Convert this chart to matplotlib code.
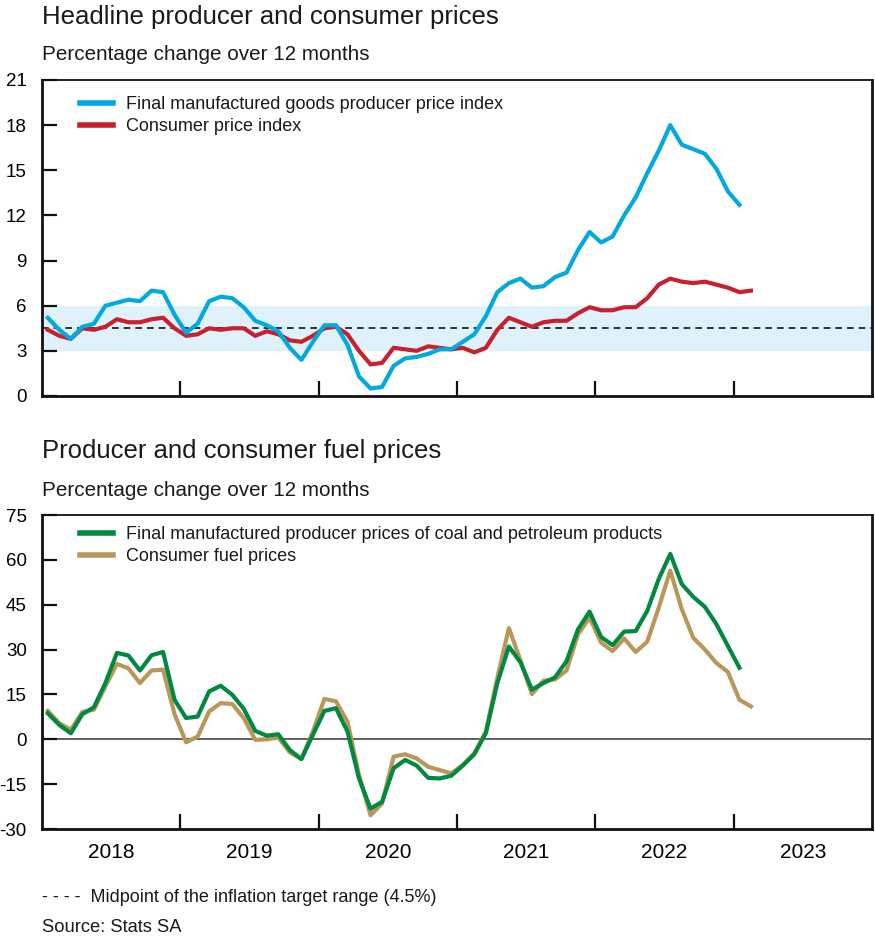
import matplotlib
matplotlib.use('Agg')
import matplotlib.pyplot as plt
from matplotlib.lines import Line2D
import numpy as np

plt.rcParams['font.family'] = ['Liberation Sans', 'DejaVu Sans']
plt.rcParams['text.color'] = '#1a1a1a'
plt.rcParams['axes.unicode_minus'] = False

# monthly data, Jan 2018 onwards
ppi = [5.2, 4.4, 3.8, 4.6, 4.8, 6.0, 6.2, 6.4, 6.3, 7.0,
       6.9, 5.4, 4.2, 4.8, 6.3, 6.6, 6.5, 5.9, 5.0, 4.7,
       4.3, 3.2, 2.4, 3.6, 4.7, 4.7, 3.4, 1.3, 0.5, 0.6,
       2.0, 2.5, 2.6, 2.8, 3.1, 3.1, 3.6, 4.1, 5.3, 6.9,
       7.5, 7.8, 7.2, 7.3, 7.9, 8.2, 9.7, 10.9, 10.2, 10.6,
       12.0, 13.2, 14.8, 16.3, 18.0, 16.7, 16.4, 16.1, 15.1, 13.6, 12.7]
cpi = [4.4, 4.0, 3.8, 4.5, 4.4, 4.6, 5.1, 4.9, 4.9, 5.1,
       5.2, 4.5, 4.0, 4.1, 4.5, 4.4, 4.5, 4.5, 4.0, 4.3,
       4.1, 3.7, 3.6, 4.0, 4.5, 4.6, 4.1, 3.0, 2.1, 2.2,
       3.2, 3.1, 3.0, 3.3, 3.2, 3.1, 3.2, 2.9, 3.2, 4.4,
       5.2, 4.9, 4.6, 4.9, 5.0, 5.0, 5.5, 5.9, 5.7, 5.7,
       5.9, 5.9, 6.5, 7.4, 7.8, 7.6, 7.5, 7.6, 7.4, 7.2, 6.9, 7.0]
fuel_ppi = [8.7, 4.8, 2.0, 8.4, 10.7, 18.8, 28.9, 28.0, 23.0, 28.1,
            29.2, 13.2, 7.1, 7.6, 16.0, 17.9, 14.9, 10.2, 2.8, 1.2,
            1.7, -3.6, -6.6, 1.5, 9.5, 10.4, 2.6, -13.1, -23.2, -20.9,
            -9.7, -6.9, -8.8, -12.9, -13.1, -12.2, -8.8, -5.0, 2.0, 18.8,
            31.0, 25.8, 16.6, 18.8, 20.7, 26.1, 36.8, 42.7, 34.2, 31.5,
            36.0, 36.2, 42.9, 53.6, 62.0, 51.9, 47.6, 44.3, 38.5, 31.2, 23.9]
fuel_cpi = [9.5, 5.4, 3.2, 9.1, 9.9, 17.7, 25.2, 23.7, 18.8, 23.0,
            23.3, 8.4, -1.0, 0.9, 9.3, 12.1, 11.8, 7.1, -0.2, 0.0,
            0.6, -4.4, -6.6, 2.6, 13.5, 12.7, 5.9, -12.0, -25.4, -21.5,
            -5.8, -5.0, -6.4, -9.2, -10.3, -11.4, -8.6, -4.7, 2.6, 20.5,
            37.2, 26.4, 15.1, 19.6, 20.0, 23.0, 35.1, 40.7, 32.3, 29.5,
            33.7, 29.2, 32.6, 44.0, 56.4, 43.5, 33.9, 30.0, 25.5, 22.5, 13.2, 11.0]
years = ['2018', '2019', '2020', '2021', '2022', '2023']

BLUE = '#00a9e0'
RED = '#c8202f'
GREEN = '#00893f'
GOLD = '#b9975b'
BAND = '#dff1fa'

W, H = 875, 939
fig = plt.figure(figsize=(W / 100, H / 100), dpi=100)


def frame(ax, ylim, step):
    ax.set_xlim(-0.5, 71.5)
    ax.set_ylim(*ylim)
    ax.set_yticks(np.arange(ylim[0], ylim[1] + 1, step))
    ax.set_xticks(np.arange(11.5, 71, 12))
    ax.set_xticklabels([])
    ax.tick_params(axis='both', direction='in', length=11, width=1.6,
                   labelsize=13.5, color='#111111')
    ax.tick_params(axis='y', pad=11)
    for side in ['left', 'right', 'bottom']:
        ax.spines[side].set_linewidth(2)
    ax.spines['top'].set_linewidth(1.3)
    for s in ax.spines.values():
        s.set_color('#111111')


# top panel
ax1 = fig.add_axes([42 / W, 1 - 396 / H, 830 / W, 316 / H])
frame(ax1, (0, 21), 3)
ax1.axhspan(3, 6, color=BAND, lw=0, zorder=0)
ax1.axhline(4.5, color='#111111', lw=1.2, ls=(0, (4, 3)), zorder=1)
ax1.plot(np.arange(len(cpi)), cpi, color=RED, lw=3, zorder=3)
ax1.plot(np.arange(len(ppi)), ppi, color=BLUE, lw=3, zorder=4)
h1 = [Line2D([], [], color=BLUE, lw=4), Line2D([], [], color=RED, lw=4)]
ax1.legend(h1, ['Final manufactured goods producer price index', 'Consumer price index'],
           loc='upper left', bbox_to_anchor=((80 - 42) / 830, (396 - 96) / 316),
           frameon=False, fontsize=13, handlelength=1.85, handletextpad=0.7,
           labelspacing=0.28, borderpad=0, borderaxespad=0)

# bottom panel
ax2 = fig.add_axes([42 / W, 1 - 829 / H, 830 / W, 314 / H])
frame(ax2, (-30, 75), 15)
ax2.axhline(0, color='#333333', lw=1.1, zorder=1)
ax2.plot(np.arange(len(fuel_cpi)), fuel_cpi, color=GOLD, lw=3, zorder=3)
ax2.plot(np.arange(len(fuel_ppi)), fuel_ppi, color=GREEN, lw=3, zorder=4)
ax2.set_xticks(np.arange(5.5, 72, 12), minor=True)
ax2.set_xticklabels(years, minor=True)
ax2.tick_params(axis='x', which='minor', length=0, pad=10, labelsize=15)
h2 = [Line2D([], [], color=GREEN, lw=4), Line2D([], [], color=GOLD, lw=4)]
ax2.legend(h2, ['Final manufactured producer prices of coal and petroleum products',
                'Consumer fuel prices'],
           loc='upper left', bbox_to_anchor=((80 - 42) / 830, (829 - 526) / 314),
           frameon=False, fontsize=13, handlelength=1.85, handletextpad=0.7,
           labelspacing=0.28, borderpad=0, borderaxespad=0)

# titles and notes
fig.text(42 / W, 1 - 17 / H, 'Headline producer and consumer prices', fontsize=18.5, va='center')
fig.text(42 / W, 1 - 54 / H, 'Percentage change over 12 months', fontsize=14.9, va='center')
fig.text(42 / W, 1 - 451 / H, 'Producer and consumer fuel prices', fontsize=18.5, va='center')
fig.text(42 / W, 1 - 490 / H, 'Percentage change over 12 months', fontsize=14.9, va='center')
fig.text(42 / W, 1 - 898 / H, '- - - -  Midpoint of the inflation target range (4.5%)', fontsize=13, va='center')
fig.text(42 / W, 1 - 928 / H, 'Source: Stats SA', fontsize=13.2, va='center')

fig.savefig('out.png', dpi=100)
